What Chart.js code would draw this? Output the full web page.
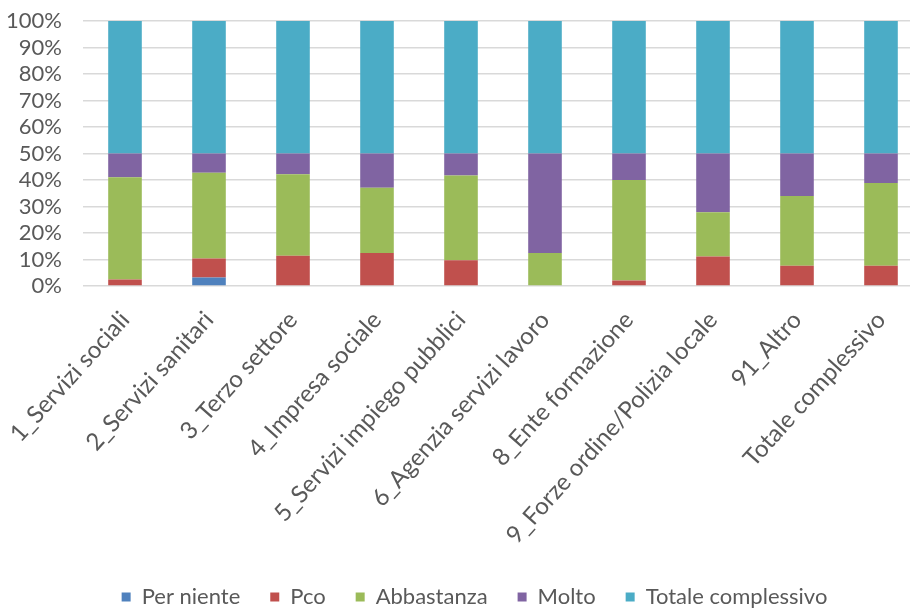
<!DOCTYPE html>
<html>
<head>
<meta charset="utf-8">
<script src="https://cdn.jsdelivr.net/npm/chart.js@4"></script>
<style>
  html, body { margin: 0; padding: 0; background: #fff; overflow: hidden; }
  #wrap { width: 930px; height: 618px; }
</style>
</head>
<body>
<div id="wrap"><canvas id="grafico"></canvas></div>
<script>
// categorie e serie (percentuali)
const categorie = [
  "1_Servizi sociali", "2_Servizi sanitari", "3_Terzo settore", "4_Impresa sociale",
  "5_Servizi impiego pubblici", "6_Agenzia servizi lavoro", "8_Ente formazione",
  "9_Forze ordine/Polizia locale", "91_Altro", "Totale complessivo"
];
const perNiente   = [0,   3.2, 0,    0,    0,    0,    0,    0,    0,    0];
const pco         = [2.5, 7.2, 11.4, 12.5, 9.7,  0,    2.1,  11.1, 7.6,  7.6];
const abbastanza  = [38.5, 32.3, 30.8, 24.6, 32.0, 12.5, 37.9, 16.7, 26.4, 31.3];
const molto       = [9.0, 7.3, 7.8,  12.9, 8.3,  37.5, 10.0, 22.2, 16.0, 11.1];
const totale      = [50, 50, 50, 50, 50, 50, 50, 50, 50, 50];
const yTicks = [0, 10, 20, 30, 40, 50, 60, 70, 80, 90, 100];

const FONT = "Lato, 'Liberation Sans', sans-serif";
const GRIGIO = "#595959";

function serie(label, data, colore) {
  return {
    label,
    data,
    backgroundColor: colore,
    borderWidth: 0,
    categoryPercentage: 1,
    barPercentage: 0.4,
  };
}

// sposta un po' la legenda a destra, come nell'originale
const spostaLegenda = {
  id: "spostaLegenda",
  afterLayout(chart) {
    if (chart.legend) {
      chart.legend.left += 13;
      chart.legend.right += 13;
    }
  },
};

const ctx = document.getElementById("grafico").getContext("2d");
new Chart(ctx, {
  type: "bar",
  data: {
    labels: categorie,
    datasets: [
      serie("Per niente", perNiente, "#4F81BD"),
      serie("Pco", pco, "#C0504D"),
      serie("Abbastanza", abbastanza, "#9BBB59"),
      serie("Molto", molto, "#8064A2"),
      serie("Totale complessivo", totale, "#4BACC6"),
    ],
  },
  plugins: [spostaLegenda],
  options: {
    responsive: true,
    maintainAspectRatio: false,
    animation: false,
    layout: { padding: { top: 21, left: 0, right: 7, bottom: 0 } },
    plugins: {
      tooltip: { enabled: false },
      legend: {
        position: "bottom",
        labels: {
          font: { family: FONT, size: 22 },
          color: GRIGIO,
          boxWidth: 9,
          boxHeight: 9,
          padding: 30,
        },
      },
    },
    scales: {
      x: {
        stacked: true,
        grid: { display: false, drawTicks: false },
        border: { display: false },
        ticks: {
          font: { family: FONT, size: 24 },
          color: GRIGIO,
          minRotation: 48,
          maxRotation: 48,
          autoSkip: false,
          padding: 20,
        },
        afterFit: (s) => { s.paddingLeft = 0; s.paddingRight = 0; s.height = 270; },
      },
      y: {
        stacked: true,
        min: 0,
        max: 100,
        afterBuildTicks: (ax) => { ax.ticks = yTicks.map((v) => ({ value: v })); },
        grid: { color: "#d9d9d9", lineWidth: 1.5, drawTicks: false },
        border: { display: false },
        ticks: {
          font: { family: FONT, size: 22 },
          color: GRIGIO,
          padding: 21,
          autoSkip: false,
          callback: (v) => v + "%",
        },
        afterFit: (s) => { s.width = 83; s.paddingTop = 0; s.paddingBottom = 0; },
      },
    },
  },
});
</script>
</body>
</html>
